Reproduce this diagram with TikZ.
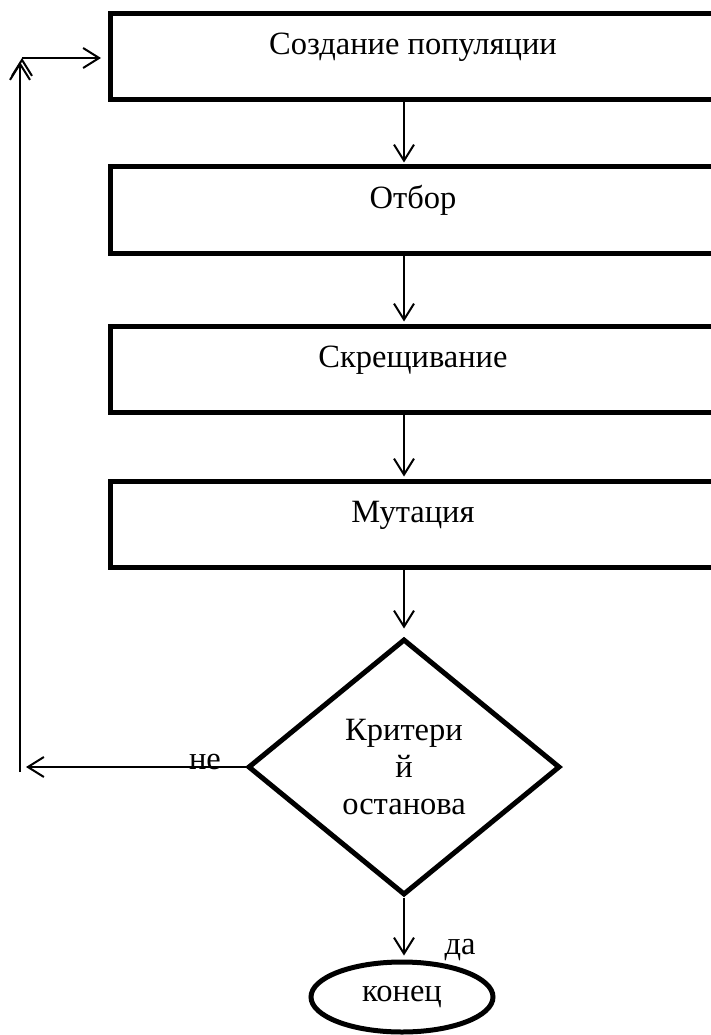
\documentclass[tikz,border=0pt]{standalone}
\usepackage{fontspec}
\setmainfont{Liberation Serif}
\usetikzlibrary{shapes.geometric, positioning, arrows.meta}
\tikzset{
    ->, % all connectors are arrows
    >={Straight Barb[length=16pt,width=20pt]}, % open arrow heads
    node distance=155pt, % distance between the centres of two blocks
    every node/.style={font=\fontsize{32.5}{37}\selectfont}, % large serif text
    block/.style={draw, rectangle, line width=5pt, minimum width=606pt, minimum height=86pt,
        inner sep=0pt, text height=22pt, text depth=26pt}, % text sits in the upper half
    decision/.style={draw, diamond, line width=5pt, minimum width=312pt, minimum height=256pt,
        inner sep=0pt, align=center},
    terminal/.style={draw, ellipse, line width=5pt, minimum width=182pt, minimum height=70pt,
        inner sep=0pt},
}

\begin{document}
\begin{tikzpicture}[x=1pt, y=-1pt, line width=2pt]
            \useasboundingbox (0,0) rectangle (710,1035);

            \node[block] (b1) at (413,57) {Создание популяции};
            \node[block, below of=b1, node distance=153pt] (b2) {Отбор};
            \node[block, below of=b2, node distance=159pt] (b3) {Скрещивание};
            \node[block, below of=b3] (b4) {Мутация};
            \node[decision, below of=b4, node distance=243pt, xshift=-9pt] (krit) {Критери\\й\\останова};
            \node[terminal, below of=krit, node distance=230pt, xshift=-2pt] (end) {конец};

            \node[anchor=base] (no) at (205,769) {не};
            \node[anchor=base] (yes) at (460,954) {да};

            % return loop
            \coordinate (nl) at (26,767);
            \coordinate (lb) at (20,772);
            \coordinate (lt) at (20,62);
            \coordinate (tl) at (22,58);
            \coordinate (tr) at (101,58);

            \draw   (b1.south -| krit.north) edge[shorten >=2pt] (b2.north -| krit.north)
                    (b2.south -| krit.north) edge[shorten >=2pt] (b3.north -| krit.north)
                    (b3.south -| krit.north) edge[shorten >=2pt] (b4.north -| krit.north)
                    (b4.south -| krit.north) edge[shorten >=8pt] (krit.north)
                    (krit.south) edge[shorten >=4pt] (end.north -| krit.south)
                    (krit.west) edge (nl)
                    (lb) edge (lt)
                    (tl) edge (tr);
        \end{tikzpicture}
\end{document}
